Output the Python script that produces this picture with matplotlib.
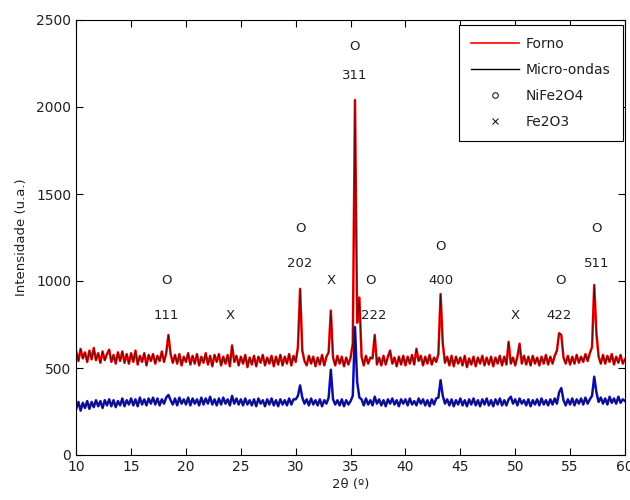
import numpy as np
import matplotlib
matplotlib.use("Agg")
import matplotlib.pyplot as plt
from matplotlib.lines import Line2D

# 2theta grid, 0.2 deg step (10 .. 60)
two_theta = np.round(np.arange(10, 60.001, 0.2), 1)

# Forno (red) intensities, five values per degree
forno = [
    595, 540, 610, 555, 590,   # 10
    535, 600, 550, 615, 545,   # 11
    585, 530, 595, 545, 580,   # 12
    605, 535, 575, 525, 590,   # 13
    540, 595, 530, 580, 525,   # 14
    585, 535, 600, 520, 570,   # 15
    535, 585, 515, 575, 540,   # 16
    580, 525, 570, 540, 595,   # 17
    535, 585, 690, 580, 530,   # 18
    575, 525, 580, 515, 565,   # 19
    535, 585, 520, 570, 525,   # 20
    580, 515, 565, 530, 585,   # 21
    520, 570, 510, 575, 535,   # 22
    580, 515, 565, 525, 575,   # 23
    510, 630, 535, 570, 515,   # 24
    565, 525, 575, 505, 560,   # 25
    520, 570, 510, 565, 530,   # 26
    575, 515, 560, 525, 570,   # 27
    510, 565, 520, 575, 515,   # 28
    565, 525, 580, 515, 570,   # 29
    535, 620, 955, 600, 540,   # 30
    515, 570, 525, 565, 510,   # 31
    560, 520, 575, 515, 565,   # 32
    590, 830, 560, 515, 570,   # 33
    525, 565, 510, 560, 520,   # 34
    560, 640, 2040, 760, 905,  # 35
    565, 515, 570, 525, 560,   # 36
    555, 690, 520, 560, 515,   # 37
    570, 520, 565, 600, 525,   # 38
    560, 510, 565, 520, 570,   # 39
    515, 565, 525, 575, 520,   # 40
    610, 540, 570, 515, 565,   # 41
    525, 575, 520, 560, 535,   # 42
    580, 925, 640, 530, 565,   # 43
    515, 570, 510, 565, 525,   # 44
    560, 515, 570, 505, 555,   # 45
    520, 565, 510, 560, 525,   # 46
    570, 515, 560, 520, 565,   # 47
    510, 560, 525, 570, 515,   # 48
    565, 520, 650, 525, 560,   # 49
    515, 565, 640, 525, 570,   # 50
    520, 565, 515, 570, 525,   # 51
    560, 515, 565, 525, 575,   # 52
    520, 565, 525, 570, 600,   # 53
    700, 690, 560, 525, 570,   # 54
    520, 565, 525, 575, 530,   # 55
    565, 535, 580, 540, 585,   # 56
    620, 977, 700, 565, 525,   # 57
    575, 525, 570, 535, 580,   # 58
    520, 565, 530, 575, 525,   # 59
    550,                       # 60
]

# Micro-ondas (blue) intensities
micro = [
    265, 305, 255, 300, 270,   # 10
    310, 265, 305, 275, 315,   # 11
    280, 310, 270, 315, 285,   # 12
    320, 280, 315, 275, 310,   # 13
    285, 325, 280, 315, 290,   # 14
    325, 285, 320, 280, 330,   # 15
    290, 320, 285, 325, 295,   # 16
    330, 290, 325, 285, 320,   # 17
    295, 330, 345, 315, 290,   # 18
    325, 285, 330, 295, 320,   # 19
    290, 330, 285, 325, 295,   # 20
    320, 285, 330, 290, 325,   # 21
    295, 335, 290, 320, 285,   # 22
    325, 290, 330, 295, 320,   # 23
    285, 340, 295, 325, 290,   # 24
    320, 285, 325, 290, 315,   # 25
    285, 320, 280, 325, 295,   # 26
    315, 280, 320, 290, 325,   # 27
    285, 315, 280, 320, 290,   # 28
    315, 285, 325, 290, 320,   # 29
    320, 340, 400, 330, 295,   # 30
    320, 285, 325, 290, 315,   # 31
    285, 320, 280, 315, 295,   # 32
    330, 490, 320, 290, 315,   # 33
    285, 320, 280, 315, 290,   # 34
    310, 340, 735, 420, 330,   # 35
    320, 285, 325, 290, 315,   # 36
    285, 335, 295, 320, 285,   # 37
    315, 280, 320, 295, 325,   # 38
    290, 315, 280, 320, 295,   # 39
    320, 285, 325, 290, 310,   # 40
    285, 325, 295, 320, 285,   # 41
    315, 280, 320, 290, 325,   # 42
    330, 430, 340, 295, 320,   # 43
    285, 320, 280, 315, 290,   # 44
    325, 285, 315, 280, 320,   # 45
    290, 325, 285, 315, 280,   # 46
    320, 290, 325, 285, 315,   # 47
    280, 320, 290, 325, 285,   # 48
    315, 285, 320, 335, 295,   # 49
    320, 285, 325, 295, 315,   # 50
    285, 320, 280, 315, 290,   # 51
    320, 285, 325, 290, 315,   # 52
    285, 320, 290, 325, 295,   # 53
    360, 385, 315, 285, 320,   # 54
    290, 325, 285, 320, 295,   # 55
    325, 290, 330, 295, 320,   # 56
    340, 450, 360, 305, 330,   # 57
    295, 325, 290, 335, 300,   # 58
    325, 295, 335, 300, 320,   # 59
    310,                       # 60
]

# peak annotations: symbol position and hkl label position
spinel_x = [18.2, 30.4, 35.4, 36.8, 43.2, 54.1, 57.4]
spinel_y = [1000, 1300, 2350, 1000, 1200, 1000, 1300]
hkl_labels = ["111", "202", "311", "222", "400", "422", "511"]
hkl_x = [18.2, 30.4, 35.4, 37.1, 43.2, 54.0, 57.4]
hkl_y = [800, 1100, 2180, 800, 1000, 800, 1100]
hematite_x = [24.0, 33.2, 50.0]
hematite_y = [800, 1000, 800]

fig = plt.figure(figsize=(6.3, 5.0), dpi=100)
ax = fig.add_axes([0.121, 0.09, 0.871, 0.87])

ax.plot(two_theta, forno, color="red", lw=1.8)
ax.plot(two_theta, forno, color="#301010", lw=0.5)
ax.plot(two_theta, micro, color="#1010d0", lw=1.8)
ax.plot(two_theta, micro, color="#101030", lw=0.5)

txt = "#202020"
for x, y in zip(spinel_x, spinel_y):
    ax.text(x, y, "O", ha="center", va="center", fontsize=9.5, color=txt)
for x, y, s in zip(hkl_x, hkl_y, hkl_labels):
    ax.text(x, y, s, ha="center", va="center", fontsize=9.5, color=txt)
for x, y in zip(hematite_x, hematite_y):
    ax.text(x, y, "X", ha="center", va="center", fontsize=9.5, color=txt)

ax.set_xlim(10, 60)
ax.set_ylim(0, 2500)
ax.set_xticks(np.arange(10, 61, 5))
ax.set_yticks([0, 500, 1000, 1500, 2000, 2500])
ax.tick_params(direction="in", top=True, right=True, length=5, width=0.8,
               labelsize=10, labelcolor=txt)
for sp in ax.spines.values():
    sp.set_linewidth(0.8)
ax.set_xlabel("2θ (º)", fontsize=9.5, color=txt, labelpad=3)
ax.set_ylabel("Intensidade (u.a.)", fontsize=9.5, color=txt, labelpad=6)

handles = [
    Line2D([], [], color="red", lw=1.2),
    Line2D([], [], color="black", lw=1.0),
    Line2D([], [], color="black", marker="o", ls="none", markersize=4,
           markerfacecolor="none", markeredgewidth=0.7),
    Line2D([], [], color="black", marker="x", ls="none", markersize=4,
           markeredgewidth=0.7),
]
leg = ax.legend(handles, ["Forno", "Micro-ondas", "NiFe2O4", "Fe2O3"],
                loc="upper right", fontsize=10, fancybox=False,
                edgecolor="black", framealpha=1, borderpad=0.9,
                labelspacing=0.85, handlelength=3.4, handletextpad=0.5,
                borderaxespad=0, bbox_to_anchor=(0.996, 0.989))
leg.get_frame().set_linewidth(0.8)
for t in leg.get_texts():
    t.set_color(txt)

fig.savefig("out.png", dpi=100)
